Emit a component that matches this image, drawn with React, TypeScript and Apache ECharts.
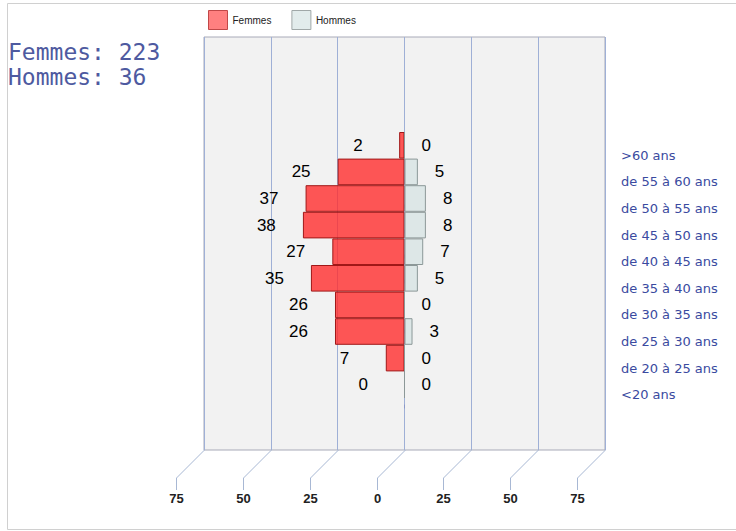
import React, { useEffect, useRef } from "react";
import * as echarts from "echarts";

const categories = [
  "<20 ans",
  "de 20 à 25 ans",
  "de 25 à 30 ans",
  "de 30 à 35 ans",
  "de 35 à 40 ans",
  "de 40 à 45 ans",
  "de 45 à 50 ans",
  "de 50 à 55 ans",
  "de 55 à 60 ans",
  ">60 ans",
];
const femmes = [0, 7, 26, 26, 35, 27, 38, 37, 25, 2];
const hommes = [0, 0, 3, 0, 5, 7, 8, 8, 5, 0];
const tickValues = [-75, -50, -25, 0, 25, 50, 75];
const tickLabels = ["75", "50", "25", "0", "25", "50", "75"];
const summaryLines = ["Femmes: 223", "Hommes: 36"];

export default function App() {
  const ref = useRef<HTMLDivElement>(null);
  useEffect(() => {
    if (!ref.current) return;
    const chart = echarts.init(ref.current, undefined, { renderer: "svg" });
    const GRID_LEFT = 204;
    const GRID_W = 401;
    const option: any = {
      animation: false,
      backgroundColor: "#ffffff",
      legend: {
        left: 203,
        top: 5,
        itemWidth: 19,
        itemHeight: 19,
        itemGap: 20,
        icon: "rect",
        textStyle: { fontSize: 10, color: "#222", fontFamily: "Liberation Sans" },
        data: [
          { name: "Femmes", itemStyle: { color: "#ff8080", borderColor: "#c04848", borderWidth: 1 } },
          { name: "Hommes", itemStyle: { color: "#e2ecec", borderColor: "#a0a8a8", borderWidth: 1 } },
        ],
      },
      graphic: [
        {
          type: "rect",
          shape: { x: 7.5, y: 3.5, width: 800, height: 526 },
          style: { fill: "none", stroke: "#d0d0d0", lineWidth: 1 },
          silent: true,
          z: -10,
        },
        ...summaryLines.map((t, i) => ({
          type: "text",
          left: 8,
          top: 40 + i * 25,
          style: {
            text: t,
            fill: "#4e5aa0",
            font: '23px "DejaVu Sans Mono"',
          },
        })),
      ],
      grid: [
        {
          left: GRID_LEFT,
          top: 37,
          width: GRID_W,
          height: 413,
          show: true,
          backgroundColor: "#f2f2f2",
          borderColor: "#a8aab8",
          borderWidth: 1,
        },
        { left: GRID_LEFT, top: 132, width: GRID_W, height: 266 },
        { left: GRID_LEFT, top: 142, width: GRID_W, height: 266 },
      ],
      xAxis: [
        {
          gridIndex: 0,
          type: "value",
          min: -75,
          max: 75,
          interval: 25,
          axisLine: { show: false },
          axisTick: { show: false },
          axisLabel: { show: false },
          splitLine: { show: true, lineStyle: { color: "#9fb0d6", width: 1 } },
        },
        { gridIndex: 1, type: "value", min: -75, max: 75, interval: 25, show: false },
        { gridIndex: 2, type: "value", min: -75, max: 75, interval: 25, show: false },
      ],
      yAxis: [
        { gridIndex: 0, type: "value", min: 0, max: 1, show: false },
        { gridIndex: 1, type: "category", data: categories, show: false },
        {
          gridIndex: 2,
          type: "category",
          data: categories,
          position: "right",
          offset: 13,
          axisLine: { show: true, lineStyle: { color: "#8a98c8", type: [3, 22] } },
          axisTick: { show: false },
          splitLine: { show: false },
          axisLabel: {
            margin: 3,
            color: "#3a4aa0",
            fontFamily: "DejaVu Sans",
            fontSize: 13,
          },
        },
      ],
      series: [
        {
          name: "Femmes",
          type: "bar",
          xAxisIndex: 1,
          yAxisIndex: 1,
          data: femmes.map((v) => -v),
          barWidth: "100%",
          barGap: "-100%",
          barMinHeight: 0,
          itemStyle: { color: "rgba(255,45,45,0.8)", borderColor: "#a01818", borderWidth: 1 },
          z: 3,
        },
        {
          name: "Hommes",
          type: "bar",
          xAxisIndex: 1,
          yAxisIndex: 1,
          data: hommes,
          barWidth: "100%",
          barGap: "-100%",
          itemStyle: { color: "rgba(218,230,230,0.9)", borderColor: "#8c9898", borderWidth: 1 },
          z: 3,
        },
        {
          type: "scatter",
          xAxisIndex: 1,
          yAxisIndex: 1,
          symbolSize: 1,
          itemStyle: { color: "transparent" },
          data: femmes.map((v, i) => [-v, i]),
          label: {
            show: true,
            position: "inside",
            align: "left",
            verticalAlign: "middle",
            offset: [-46, 0],
            formatter: (p: any) => String(-p.value[0]),
            color: "#000",
            opacity: 1,
            textBorderWidth: 0,
            fontFamily: "Liberation Sans",
            fontSize: 17,
          },
          silent: true,
          z: 5,
        },
        {
          type: "scatter",
          xAxisIndex: 1,
          yAxisIndex: 1,
          symbolSize: 1,
          itemStyle: { color: "transparent" },
          data: hommes.map((v, i) => [v, i]),
          label: {
            show: true,
            position: "inside",
            align: "left",
            verticalAlign: "middle",
            offset: [17, 0],
            formatter: (p: any) => String(p.value[0]),
            color: "#000",
            opacity: 1,
            textBorderWidth: 0,
            fontFamily: "Liberation Sans",
            fontSize: 17,
          },
          silent: true,
          z: 5,
        },
        {
          type: "custom",
          xAxisIndex: 0,
          yAxisIndex: 0,
          clip: false,
          silent: true,
          data: tickValues.map((v, i) => [v, 0, i]),
          renderItem: (params: any, api: any) => {
            const v = api.value(0);
            const idx = api.value(2);
            const p = api.coord([v, 0]);
            const x = Math.round(p[0]) + 0.5;
            const y = p[1];
            return {
              type: "group",
              children: [
                {
                  type: "polyline",
                  shape: { points: [[x, y], [x - 28, y + 28], [x - 28, y + 40]] },
                  style: { stroke: "#a8b8d4", lineWidth: 1, fill: "none" },
                },
                {
                  type: "text",
                  style: {
                    x: x - 28,
                    y: y + 48,
                    text: tickLabels[idx],
                    fill: "#222",
                    font: 'bold 13px "Liberation Sans"',
                    align: "center",
                    verticalAlign: "middle",
                  },
                },
              ],
            };
          },
        },
      ],
    };
    chart.setOption(option);
    return () => chart.dispose();
  }, []);
  return (
    <div
      ref={ref}
      style={{ position: "fixed", left: 0, top: 0, width: 736, height: 531 }}
    />
  );
}
